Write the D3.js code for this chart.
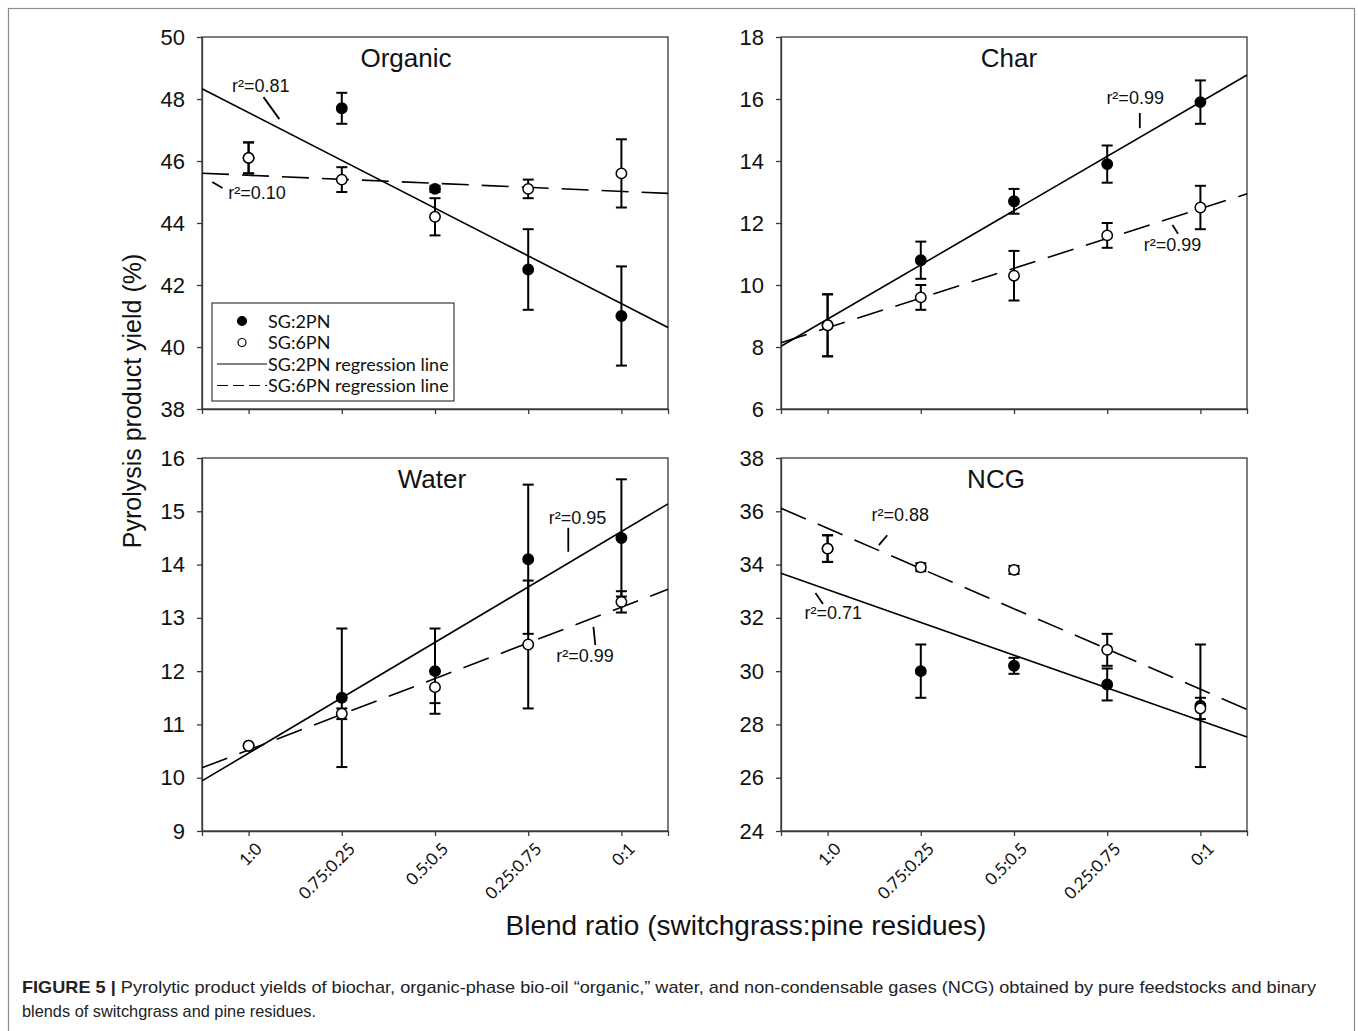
<!DOCTYPE html>
<html>
<head>
<meta charset="utf-8">
<script src="https://cdn.jsdelivr.net/npm/d3@7"></script>
<style>
  body { margin: 0; background: #fff; }
</style>
</head>
<body>
<div id="app"></div>
<script>
const blends = ["1:0", "0.75:0.25", "0.5:0.5", "0.25:0.75", "0:1"];

// yields (%), mean and half error bar
const organicSG2 = [46.1, 47.7, 45.1, 42.5, 41.0];
const organicSG2Err = [0.5, 0.5, 0.1, 1.3, 1.6];
const organicSG6 = [46.1, 45.4, 44.2, 45.1, 45.6];
const organicSG6Err = [0.5, 0.4, 0.6, 0.3, 1.1];

const charSG2 = [8.7, 10.8, 12.7, 13.9, 15.9];
const charSG2Err = [1.0, 0.6, 0.4, 0.6, 0.7];
const charSG6 = [8.7, 9.6, 10.3, 11.6, 12.5];
const charSG6Err = [1.0, 0.4, 0.8, 0.4, 0.7];

const waterSG2 = [10.6, 11.5, 12.0, 14.1, 14.5];
const waterSG2Err = [0, 1.3, 0.8, 1.4, 1.1];
const waterSG6 = [10.6, 11.2, 11.7, 12.5, 13.3];
const waterSG6Err = [0, 0.1, 0.3, 1.2, 0.2];

const ncgSG2 = [34.6, 30.0, 30.2, 29.5, 28.7];
const ncgSG2Err = [0.5, 1.0, 0.3, 0.6, 2.3];
const ncgSG6 = [34.6, 33.9, 33.8, 30.8, 28.6];
const ncgSG6Err = [0.5, 0.15, 0.15, 0.6, 0.4];

const organicTicks = [38, 40, 42, 44, 46, 48, 50];
const charTicks = [6, 8, 10, 12, 14, 16, 18];
const waterTicks = [9, 10, 11, 12, 13, 14, 15, 16];
const ncgTicks = [24, 26, 28, 30, 32, 34, 36, 38];

// r2 labels: [text, label x, label y, leader x1, y1, x2, y2] in data units
const organicR2 = [["r²=0.81", 0.13, 48.42, 0.16, 48.06, 0.33, 47.35],
                   ["r²=0.10", 0.09, 44.97, -0.39, 45.32, -0.28, 45.13]];
const charR2 = [["r²=0.99", 3.30, 16.03, 3.35, 15.55, 3.35, 15.06],
                ["r²=0.99", 3.70, 11.29, 3.70, 11.94, 3.76, 11.65]];
const waterR2 = [["r²=0.95", 3.53, 14.87, 3.43, 14.69, 3.43, 14.24],
                 ["r²=0.99", 3.61, 12.29, 3.70, 12.83, 3.72, 12.49]];
const ncgR2 = [["r²=0.88", 0.78, 35.86, 0.55, 34.73, 0.64, 35.10],
               ["r²=0.71", 0.06, 32.18, -0.13, 32.93, -0.05, 32.52]];

const panels = [
  { title: "Organic", col: 0, row: 0, titleX: 204, sg2: organicSG2, sg2Err: organicSG2Err, sg6: organicSG6, sg6Err: organicSG6Err, ticks: organicTicks, r2: organicR2, legend: true },
  { title: "Char", col: 1, row: 0, titleX: 228, sg2: charSG2, sg2Err: charSG2Err, sg6: charSG6, sg6Err: charSG6Err, ticks: charTicks, r2: charR2 },
  { title: "Water", col: 0, row: 1, titleX: 230, sg2: waterSG2, sg2Err: waterSG2Err, sg6: waterSG6, sg6Err: waterSG6Err, ticks: waterTicks, r2: waterR2 },
  { title: "NCG", col: 1, row: 1, titleX: 215, sg2: ncgSG2, sg2Err: ncgSG2Err, sg6: ncgSG6, sg6Err: ncgSG6Err, ticks: ncgTicks, r2: ncgR2 }
];

const cols = [[202, 668], [781, 1247]];
const rows = [[37, 409], [458, 831]];
const axisColor = "#3a3a3a";
const numFont = "'Liberation Sans', Arial, sans-serif";
const labelFont = "Lato, 'Open Sans', sans-serif";

const svg = d3
  .create("svg")
  .attr("width", 1358)
  .attr("height", 1031)
  .attr("viewBox", [0, 0, 1358, 1031]);

svg.append("rect")
  .attr("x", 8.5).attr("y", 8.5)
  .attr("width", 1346).attr("height", 1060)
  .attr("fill", "#fff")
  .attr("stroke", "#8c8c8c")
  .attr("stroke-width", 1.2);

// least squares line through the five blends
function fit(vals) {
  const xs = d3.range(vals.length);
  const mx = d3.mean(xs);
  const my = d3.mean(vals);
  const b = d3.sum(xs, (xi, i) => (xi - mx) * (vals[i] - my)) / d3.sum(xs, (xi) => (xi - mx) ** 2);
  return (t) => my + b * (t - mx);
}

panels.forEach((p) => {
  const [x0, x1] = cols[p.col];
  const [y0, y1] = rows[p.row];
  const x = d3.scaleLinear().domain([-0.5, 4.5]).range([x0, x1]);
  const y = d3.scaleLinear().domain([p.ticks[0], p.ticks[p.ticks.length - 1]]).range([y1, y0]);
  const g = svg.append("g");

  // x axis, labels only on the bottom row
  const xAxis = g.append("g")
    .attr("transform", `translate(0,${y1})`)
    .call(d3.axisBottom(x).tickValues(d3.range(blends.length)).tickSize(5).tickSizeOuter(5)
      .tickFormat((i) => (p.row === 1 ? blends[i] : "")));
  xAxis.selectAll("path, line").attr("stroke", axisColor).attr("stroke-width", 1.3);
  xAxis.selectAll("text")
    .attr("x", 0).attr("y", 0).attr("dy", 0)
    .attr("text-anchor", "end")
    .attr("transform", "translate(14,19) rotate(-45)")
    .attr("font-family", labelFont)
    .attr("font-size", 17)
    .attr("fill", "#111");

  // y axis
  const yAxis = g.append("g")
    .attr("transform", `translate(${x0},0)`)
    .call(d3.axisLeft(y).tickValues(p.ticks).tickSize(5).tickSizeOuter(0).tickPadding(12).tickFormat(d3.format("d")));
  yAxis.selectAll("path, line").attr("stroke", axisColor).attr("stroke-width", 1.3);
  yAxis.selectAll("text")
    .attr("font-family", numFont)
    .attr("font-size", 22)
    .attr("fill", "#111");

  // box
  g.append("rect")
    .attr("x", x0).attr("y", y0)
    .attr("width", x1 - x0).attr("height", y1 - y0)
    .attr("fill", "none")
    .attr("stroke", axisColor)
    .attr("stroke-width", 1.3);

  g.append("text")
    .attr("x", x0 + p.titleX)
    .attr("y", y0 + 30)
    .attr("text-anchor", "middle")
    .attr("font-family", numFont)
    .attr("font-size", 26)
    .attr("fill", "#111")
    .text(p.title);

  // regression lines
  const ends = [-0.5, 4.5];
  const f2 = fit(p.sg2);
  const f6 = fit(p.sg6);
  g.append("path")
    .attr("d", d3.line().x((t) => x(t)).y((t) => y(f2(t)))(ends))
    .attr("fill", "none")
    .attr("stroke", "#000")
    .attr("stroke-width", 1.6);
  g.append("path")
    .attr("d", d3.line().x((t) => x(t)).y((t) => y(f6(t)))(ends))
    .attr("fill", "none")
    .attr("stroke", "#000")
    .attr("stroke-width", 1.6)
    .attr("stroke-dasharray", "27,13");

  // r2 annotations
  p.r2.forEach((a) => {
    g.append("line")
      .attr("x1", x(a[3])).attr("y1", y(a[4]))
      .attr("x2", x(a[5])).attr("y2", y(a[6]))
      .attr("stroke", "#000")
      .attr("stroke-width", 1.8);
    g.append("text")
      .attr("x", x(a[1])).attr("y", y(a[2]))
      .attr("text-anchor", "middle")
      .attr("dominant-baseline", "central")
      .attr("font-family", numFont)
      .attr("font-size", 18)
      .attr("fill", "#111")
      .text(a[0]);
  });

  // error bars and points, open series on top
  const series = [
    { vals: p.sg2, errs: p.sg2Err, fill: "#000" },
    { vals: p.sg6, errs: p.sg6Err, fill: "#fff" }
  ];
  series.forEach((s) => {
    s.vals.forEach((v, i) => {
      const e = s.errs[i];
      if (e <= 0) return;
      const cx = x(i);
      const eb = g.append("g").attr("stroke", "#000").attr("stroke-width", 2);
      eb.append("line").attr("x1", cx).attr("x2", cx).attr("y1", y(v - e)).attr("y2", y(v + e));
      eb.append("line").attr("x1", cx - 5.5).attr("x2", cx + 5.5).attr("y1", y(v - e)).attr("y2", y(v - e));
      eb.append("line").attr("x1", cx - 5.5).attr("x2", cx + 5.5).attr("y1", y(v + e)).attr("y2", y(v + e));
    });
  });
  series.forEach((s) => {
    g.selectAll(null)
      .data(s.vals)
      .join("circle")
      .attr("cx", (d, i) => x(i))
      .attr("cy", (d) => y(d))
      .attr("r", 5.2)
      .attr("fill", s.fill)
      .attr("stroke", "#000")
      .attr("stroke-width", 1.5);
  });

  if (p.legend) {
    const lg = g.append("g").attr("font-family", labelFont).attr("font-size", 18).attr("fill", "#111");
    lg.append("rect")
      .attr("x", 212).attr("y", 303)
      .attr("width", 242).attr("height", 98)
      .attr("fill", "#fff")
      .attr("stroke", axisColor)
      .attr("stroke-width", 1.2);
    const items = [
      ["SG:2PN", "dot", "#000"],
      ["SG:6PN", "dot", "#fff"],
      ["SG:2PN regression line", "line", null],
      ["SG:6PN regression line", "line", "11,5"]
    ];
    items.forEach((it, k) => {
      const cy = 321 + k * 21.5;
      if (it[1] === "dot") {
        lg.append("circle").attr("cx", 242).attr("cy", cy).attr("r", it[2] === "#000" ? 4.5 : 4)
          .attr("fill", it[2]).attr("stroke", "#000").attr("stroke-width", 1.2);
      } else {
        lg.append("line").attr("x1", 217).attr("x2", 267).attr("y1", cy).attr("y2", cy)
          .attr("stroke", "#000").attr("stroke-width", 1.2)
          .attr("stroke-dasharray", it[2]);
      }
      lg.append("text").attr("x", 268).attr("y", cy + 6.5).text(it[0]);
    });
  }
});

svg.append("text")
  .attr("transform", "translate(141,401) rotate(-90)")
  .attr("text-anchor", "middle")
  .attr("font-family", numFont)
  .attr("font-size", 25)
  .attr("fill", "#111")
  .text("Pyrolysis product yield (%)");

svg.append("text")
  .attr("x", 746)
  .attr("y", 935)
  .attr("text-anchor", "middle")
  .attr("font-family", numFont)
  .attr("font-size", 28)
  .attr("fill", "#111")
  .text("Blend ratio (switchgrass:pine residues)");

// caption
const cap1 = svg.append("text")
  .attr("x", 22).attr("y", 993)
  .attr("font-family", numFont)
  .attr("font-size", 17)
  .attr("fill", "#222")
  .attr("textLength", 1294)
  .attr("lengthAdjust", "spacingAndGlyphs");
cap1.append("tspan").attr("font-weight", "bold").text("FIGURE 5 | ");
cap1.append("tspan").text("Pyrolytic product yields of biochar, organic-phase bio-oil \u201corganic,\u201d water, and non-condensable gases (NCG) obtained by pure feedstocks and binary");

svg.append("text")
  .attr("x", 22).attr("y", 1017)
  .attr("font-family", numFont)
  .attr("font-size", 17)
  .attr("fill", "#222")
  .attr("textLength", 294)
  .attr("lengthAdjust", "spacingAndGlyphs")
  .text("blends of switchgrass and pine residues.");

document.getElementById("app").append(svg.node());
</script>
</body>
</html>
